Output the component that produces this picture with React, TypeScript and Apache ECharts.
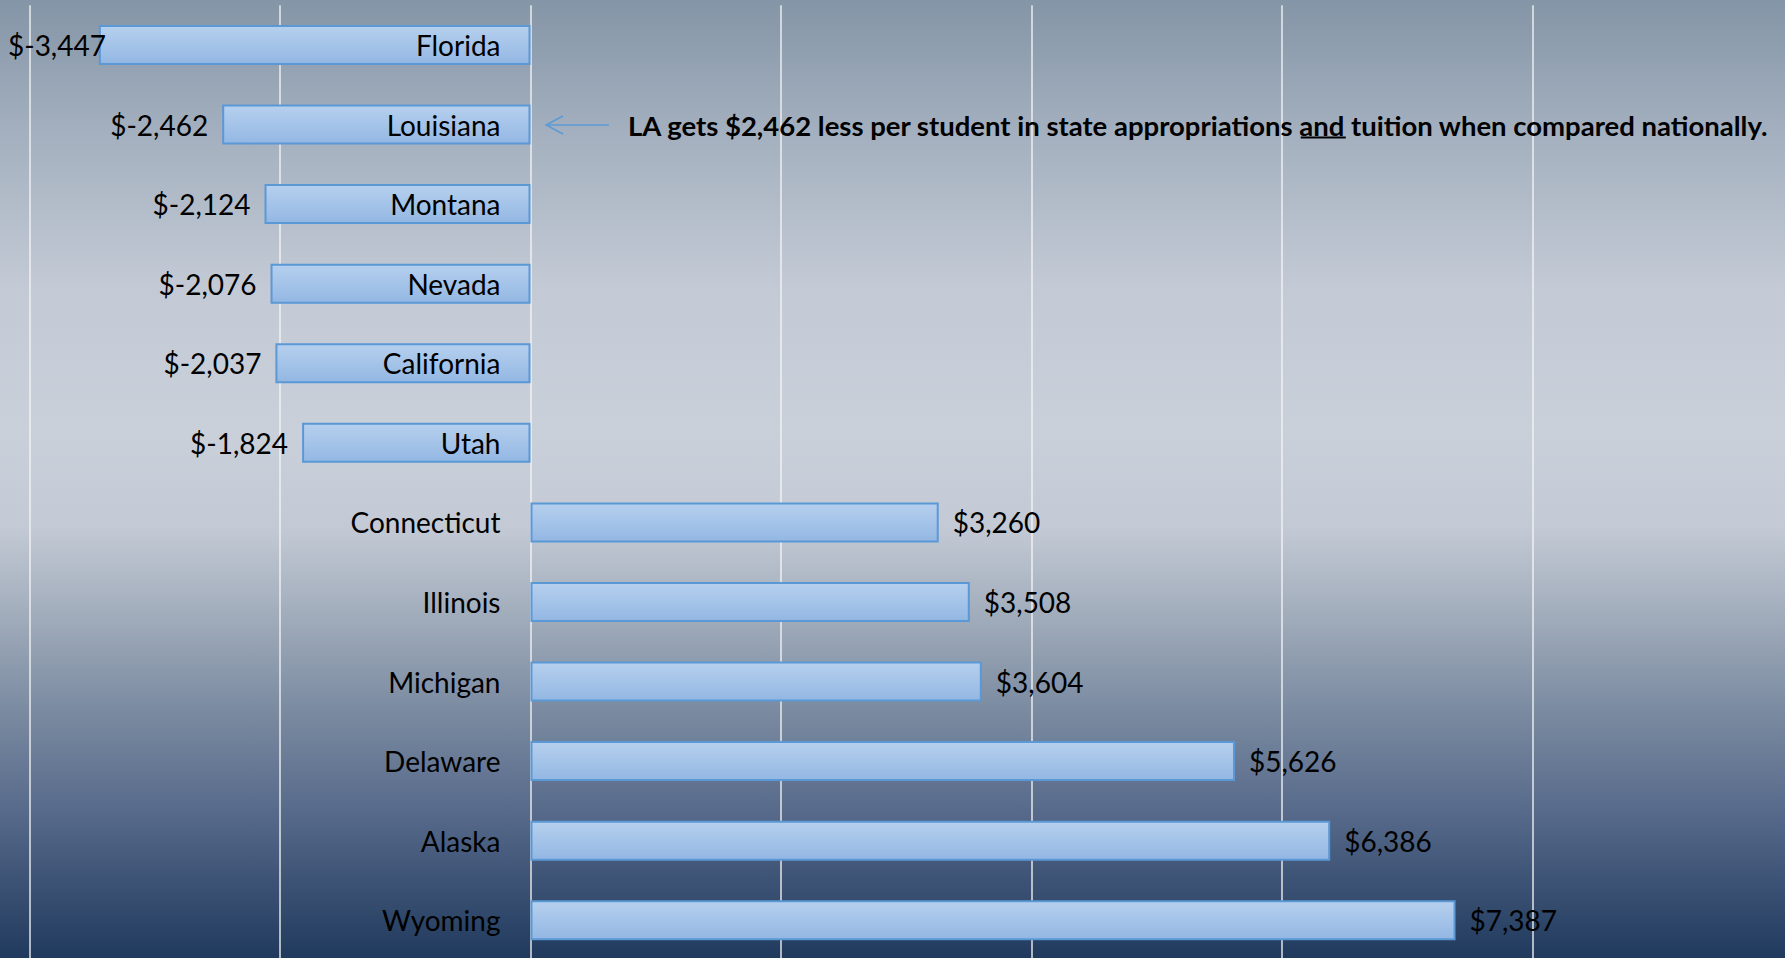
import React, { useEffect, useRef } from "react";
import * as echarts from "echarts";

const states = [
  "Florida",
  "Louisiana",
  "Montana",
  "Nevada",
  "California",
  "Utah",
  "Connecticut",
  "Illinois",
  "Michigan",
  "Delaware",
  "Alaska",
  "Wyoming",
];
const differences = [-3447, -2462, -2124, -2076, -2037, -1824, 3260, 3508, 3604, 5626, 6386, 7387];
const xMin = -4000;
const xMax = 8000;
const xStep = 2000;
const annoBefore = "LA gets $2,462 less per student in state appropriations ";
const annoUnder = "and";
const annoAfter = " tuition when compared nationally.";

const FONT = "Lato, 'Noto Sans', sans-serif";
const W = 1785;
const H = 958;

function measure(text: string, font: string): number {
  const c = document.createElement("canvas").getContext("2d");
  if (!c) return text.length * 12;
  c.font = font;
  return c.measureText(text).width;
}

export default function App() {
  const ref = useRef<HTMLDivElement>(null);
  useEffect(() => {
    if (!ref.current) return;
    const chart = echarts.init(ref.current, null, { renderer: "svg" });

    const gridLeft = 29.6;
    const gridRight = 252.7;
    const gridTop = 5.2;
    const gridHeight = 954.8;
    const gridWidth = W - gridLeft - gridRight;
    const zeroOffset = (gridWidth * (0 - xMin)) / (xMax - xMin);

    // annotation geometry
    const annoX = 628;
    const annoY = 125;
    const targetW = 1142;
    const full = annoBefore + annoUnder + annoAfter;
    let fs = 28;
    const w28 = measure(full, `bold 28px ${FONT}`);
    if (w28 > targetW) fs = Math.max(20, (28 * targetW) / w28);
    const fontStr = `bold ${fs}px ${FONT}`;
    const preW = measure(annoBefore, fontStr);
    const andW = measure(annoUnder, fontStr);

    const fmt = (v: number) => "$" + v.toLocaleString("en-US");

    chart.setOption({
      animation: false,
      grid: {
        left: gridLeft,
        right: gridRight,
        top: gridTop,
        height: gridHeight,
        containLabel: false,
        outerBoundsMode: "none",
      },
      xAxis: {
        type: "value",
        min: xMin,
        max: xMax,
        interval: xStep,
        axisLabel: { show: false },
        axisLine: { show: false },
        axisTick: { show: false },
        splitLine: { show: true, lineStyle: { color: "rgba(245,245,245,0.9)", width: 1.5 } },
      },
      yAxis: {
        type: "category",
        data: states,
        inverse: true,
        offset: -zeroOffset,
        z: 20,
        axisLine: { show: false, onZero: false },
        axisTick: { show: false },
        axisLabel: { margin: 30, fontSize: 28, color: "#000", fontFamily: FONT },
      },
      series: [
        {
          type: "bar",
          barWidth: 40,
          data: differences.map((v) => ({
            value: v,
            label: { position: v < 0 ? "left" : "right" },
          })),
          itemStyle: {
            color: new echarts.graphic.LinearGradient(0, 0, 0, 1, [
              { offset: 0, color: "#b6d0ee" },
              { offset: 1, color: "#93b7e3" },
            ]),
            borderColor: "#5a98d6",
            borderWidth: 2,
          },
          label: {
            show: true,
            distance: 14,
            fontSize: 28,
            color: "#000",
            fontFamily: FONT,
            formatter: (p: any) => fmt(p.value),
          },
          z: 2,
        },
      ],
      labelLayout: (params: any) => {
        if (params.labelRect && params.labelRect.x < 8) {
          return { dx: 8 - params.labelRect.x };
        }
        return {};
      },
      graphic: [
        {
          type: "line",
          shape: { x1: 609, y1: annoY, x2: 546, y2: annoY },
          style: { stroke: "#5b9bd5", lineWidth: 1.5 },
          silent: true,
          z: 100,
        },
        {
          type: "polyline",
          shape: { points: [[563, 116], [546, annoY], [563, 134]] },
          style: { stroke: "#5b9bd5", lineWidth: 1.5, fill: null },
          silent: true,
          z: 100,
        },
        {
          type: "text",
          x: annoX,
          y: annoY,
          style: {
            text: full,
            font: fontStr,
            fill: "#000",
            textAlign: "left",
            textVerticalAlign: "middle",
          },
          silent: true,
          z: 100,
        },
        {
          type: "line",
          shape: { x1: annoX + preW, y1: annoY + fs * 0.45, x2: annoX + preW + andW, y2: annoY + fs * 0.45 },
          style: { stroke: "#000", lineWidth: 2 },
          silent: true,
          z: 100,
        },
      ],
    });
    return () => chart.dispose();
  }, []);

  return (
    <div
      ref={ref}
      style={{
        position: "fixed",
        left: 0,
        top: 0,
        width: W,
        height: H,
        background:
          "linear-gradient(to bottom, #8495a7 0%, #a4b0bf 14%, #c3cad5 30%, #c9d0da 45%, #c3cad5 55%, #a2adbc 64%, #7b8ba1 74%, #56698a 85%, #203a5d 100%)",
      }}
    />
  );
}
